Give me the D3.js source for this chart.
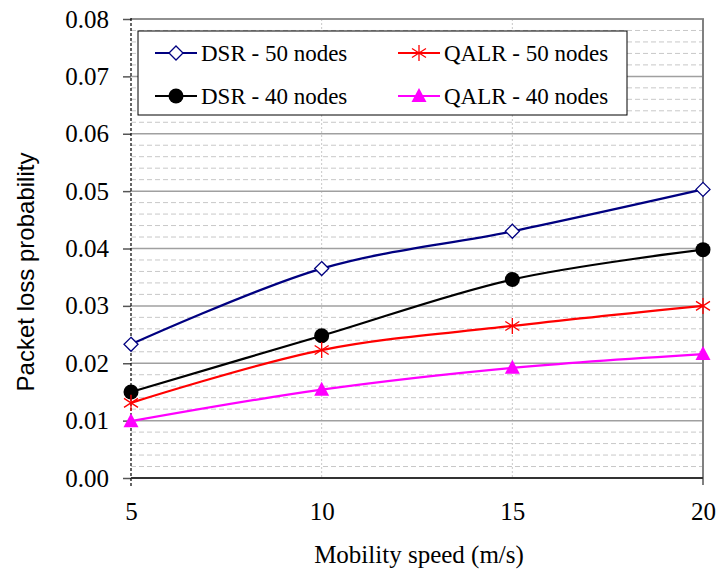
<!DOCTYPE html>
<html><head><meta charset="utf-8">
<script src="https://cdn.jsdelivr.net/npm/d3@7"></script>
<style>body{margin:0;background:#fff}svg{display:block}</style>
</head><body>
<svg id="c" width="718" height="573"></svg>
<script>
const speeds = [5, 10, 15, 20];
const dsr50 = [0.0233, 0.0365, 0.0430, 0.0503];
const dsr40 = [0.0150, 0.0248, 0.0346, 0.0398];
const qalr50 = [0.0131, 0.0223, 0.0265, 0.0300];
const qalr40 = [0.0099, 0.0154, 0.0192, 0.0216];
const yTicks = [0, 0.01, 0.02, 0.03, 0.04, 0.05, 0.06, 0.07, 0.08];
const xTicks = [5, 10, 15, 20];
const seriesNames = ["DSR - 50 nodes", "QALR - 50 nodes", "DSR - 40 nodes", "QALR - 40 nodes"];

const SERIF = "Liberation Serif";
const SANS = "Liberation Sans";

const series = [
  {name: seriesNames[0], values: dsr50, color: "#000080", marker: "diamond"},
  {name: seriesNames[2], values: dsr40, color: "#000000", marker: "circle"},
  {name: seriesNames[1], values: qalr50, color: "#ff0000", marker: "star"},
  {name: seriesNames[3], values: qalr40, color: "#ff00ff", marker: "triangle"}
];

const svg = d3.select("#c");
const L = 131, T = 19, R = 703, B = 478;
const x = d3.scaleLinear().domain([5, 20]).range([L, R]);
const y = d3.scaleLinear().domain([0, 0.08]).range([B, T]);

const g = svg.append("g");
// minor grid
const minor = d3.range(0, 0.0801, 0.002).filter(v => Math.abs(Math.round(v*100) - v*100) > 1e-6);
g.selectAll(".minor").data(minor).join("line")
  .attr("x1", L).attr("x2", R).attr("y1", d => y(d)).attr("y2", d => y(d))
  .attr("stroke", "#c8c8c8").attr("stroke-width", 1).attr("stroke-dasharray", "5,3");
// vertical dotted grid
g.selectAll(".vg").data(xTicks.slice(1, -1)).join("line")
  .attr("x1", d => x(d)).attr("x2", d => x(d)).attr("y1", T).attr("y2", B)
  .attr("stroke", "#c8c8c8").attr("stroke-width", 1).attr("stroke-dasharray", "2,2");
// major grid
g.selectAll(".major").data(yTicks.slice(1, -1)).join("line")
  .attr("x1", L).attr("x2", R).attr("y1", d => y(d)).attr("y2", d => y(d))
  .attr("stroke", "#a0a0a0").attr("stroke-width", 1.5);
// top border
g.append("line").attr("x1", L).attr("x2", R + 1).attr("y1", y(0.08)).attr("y2", y(0.08))
  .attr("stroke", "#909090").attr("stroke-width", 2);
// right border
g.append("line").attr("x1", R).attr("x2", R).attr("y1", T).attr("y2", B + 7)
  .attr("stroke", "#808080").attr("stroke-width", 2);

// y axis
const yAxis = d3.axisLeft(y).tickValues(yTicks).tickFormat(d3.format(".2f")).tickSize(8).tickPadding(14);
const ya = svg.append("g").attr("transform", `translate(${L},0)`).call(yAxis);
ya.attr("font-family", null).attr("font-size", null);
ya.select(".domain").remove();
ya.selectAll(".tick line").attr("stroke", "#555").attr("stroke-width", 1.5);
ya.selectAll("text").style("font-family", SERIF).style("font-size", "25px").attr("fill", "#000");
svg.append("line").attr("x1", L).attr("x2", L).attr("y1", T - 1).attr("y2", B + 8)
  .attr("stroke", "#000").attr("stroke-width", 1.2).attr("stroke-dasharray", "3,2");

// x axis
const xAxis = d3.axisBottom(x).tickValues(xTicks).tickFormat(d3.format("d")).tickSize(0).tickPadding(24);
const xa = svg.append("g").attr("transform", `translate(0,${B})`).call(xAxis);
xa.attr("font-family", null).attr("font-size", null);
xa.select(".domain").remove();
xa.selectAll("text").style("font-family", SERIF).style("font-size", "25px").attr("fill", "#000");
svg.append("line").attr("x1", L).attr("x2", R).attr("y1", B).attr("y2", B)
  .attr("stroke", "#333").attr("stroke-width", 2);

// titles
svg.append("text").attr("x", 419).attr("y", 563).attr("text-anchor", "middle")
  .style("font-family", SERIF).style("font-size", "25px").text("Mobility speed (m/s)");
svg.append("text").attr("transform", "translate(34,272) rotate(-90)").attr("text-anchor", "middle")
  .style("font-family", SANS).style("font-size", "24px").text("Packet loss probability");

// lines
const line = d3.line().x((d, i) => x(speeds[i])).y(d => y(d)).curve(d3.curveCatmullRom.alpha(0.5));
function drawMarker(sel, type, color) {
  if (type === "diamond") {
    sel.append("path").attr("d", "M0,-7L7,0L0,7L-7,0Z").attr("fill", "#fff").attr("stroke", color).attr("stroke-width", 1.3);
  } else if (type === "circle") {
    sel.append("circle").attr("r", 7.5).attr("fill", color);
  } else if (type === "star") {
    sel.append("path").attr("d", "M0,-8V8M-7,-4.5L7,4.5M-7,4.5L7,-4.5").attr("stroke", color).attr("stroke-width", 1.3).attr("fill", "none");
  } else if (type === "triangle") {
    sel.append("path").attr("d", "M0,-8L7.5,6L-7.5,6Z").attr("fill", color);
  }
}
series.forEach(s => {
  svg.append("path").datum(s.values).attr("d", line).attr("fill", "none")
    .attr("stroke", s.color).attr("stroke-width", 2.2);
});
series.forEach(s => {
  s.values.forEach((v, i) => {
    const m = svg.append("g").attr("transform", `translate(${x(speeds[i])},${y(v)})`);
    drawMarker(m, s.marker, s.color);
  });
});

// legend
const lg = svg.append("g");
lg.append("rect").attr("x", 138).attr("y", 31).attr("width", 489).attr("height", 84)
  .attr("fill", "#fff").attr("stroke", "#000").attr("stroke-width", 1);
const legendItems = [
  {s: series[0], lx: 155, ly: 53},
  {s: series[2], lx: 398, ly: 53},
  {s: series[1], lx: 155, ly: 96},
  {s: series[3], lx: 398, ly: 96}
];
legendItems.forEach(it => {
  lg.append("line").attr("x1", it.lx).attr("x2", it.lx + 42).attr("y1", it.ly).attr("y2", it.ly)
    .attr("stroke", it.s.color).attr("stroke-width", 2.2);
  const m = lg.append("g").attr("transform", `translate(${it.lx + 21},${it.ly})`);
  drawMarker(m, it.s.marker, it.s.color);
  lg.append("text").attr("x", it.lx + 46).attr("y", it.ly).attr("dy", "0.35em")
    .style("font-family", SERIF).style("font-size", "23px").text(it.s.name);
});
</script>
</body></html>
